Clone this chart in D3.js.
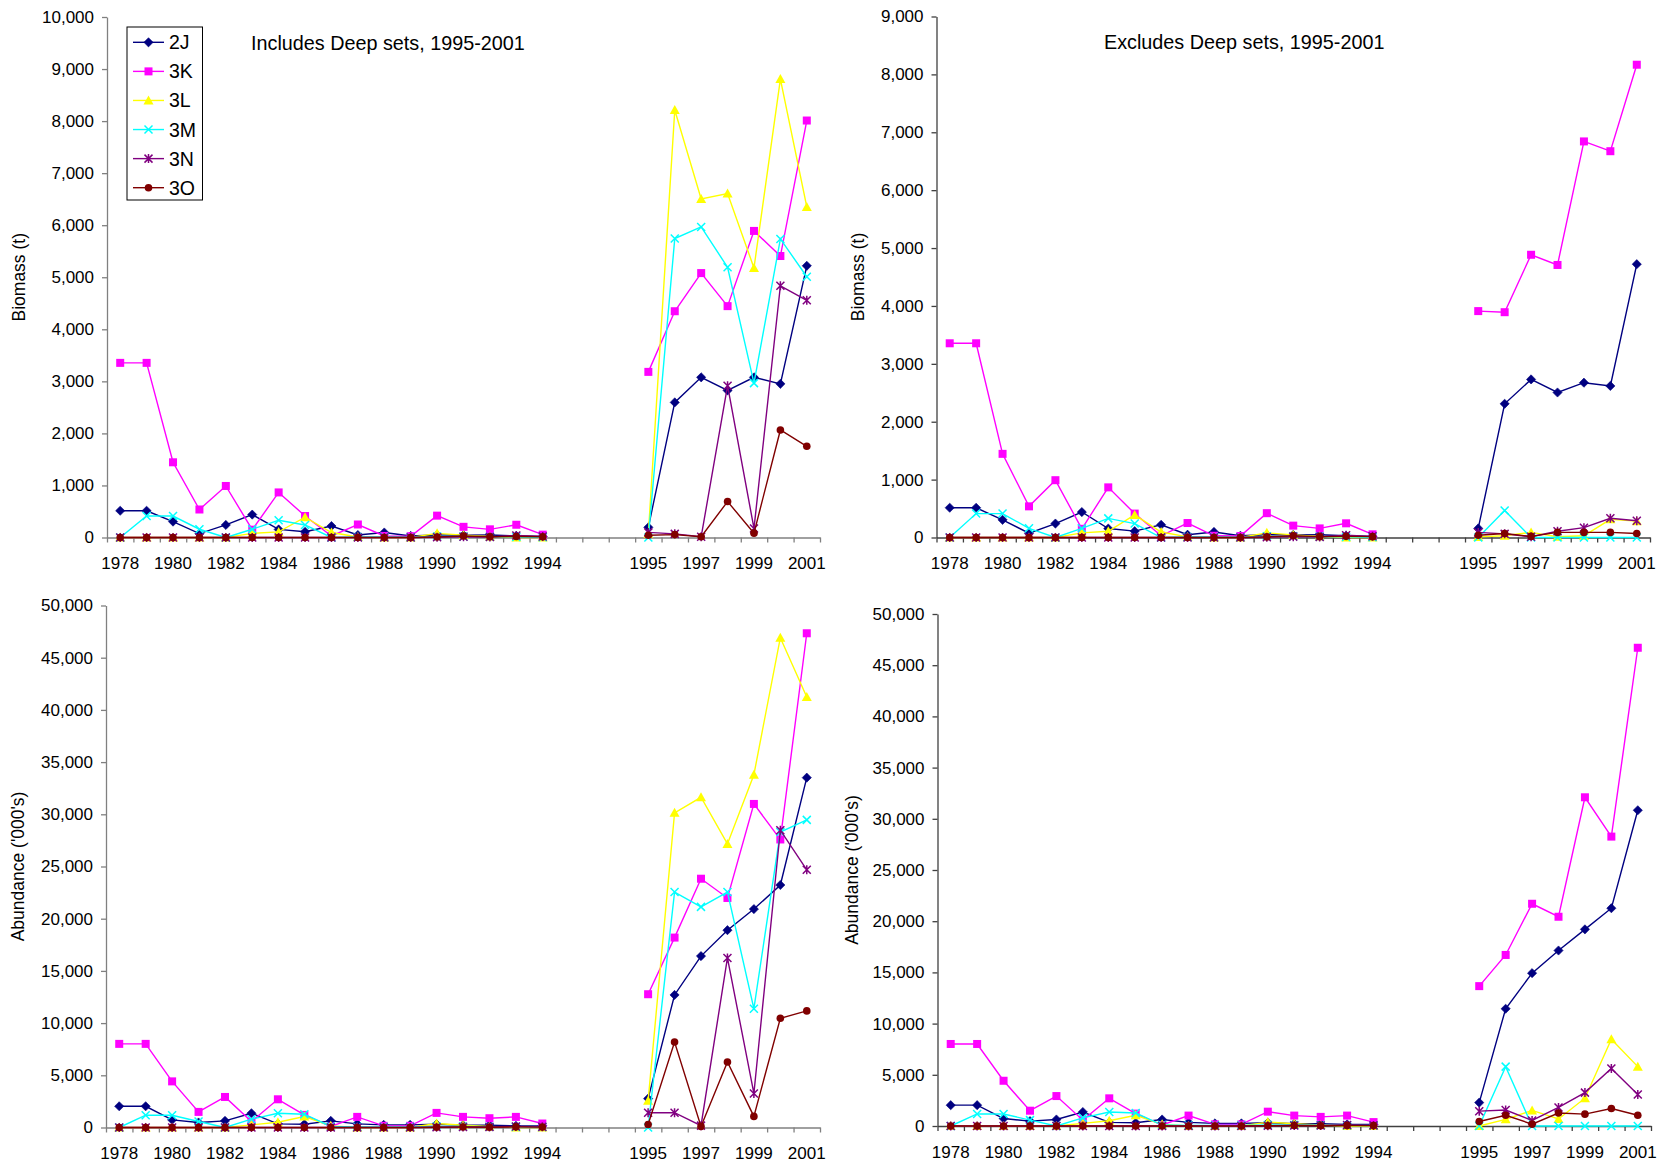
<!DOCTYPE html>
<html>
<head>
<meta charset="utf-8">
<script src="https://cdn.jsdelivr.net/npm/d3@7"></script>
<style>
  body { margin: 0; background: #fff; }
  svg { display: block; }
  text { font-family: "Liberation Sans", Arial, sans-serif; fill: #000; }
</style>
</head>
<body>
<svg id="chart" width="1669" height="1171"></svg>
<script>
// Category axis: survey years, with three empty slots separating the two survey periods
const categories = ["1978","1979","1980","1981","1982","1983","1984","1985","1986","1987","1988","1989","1990","1991","1992","1993","1994","gapA","gapB","gapC","1995","1996","1997","1998","1999","2000","2001"];
const earlyYears = ["1978","1979","1980","1981","1982","1983","1984","1985","1986","1987","1988","1989","1990","1991","1992","1993","1994"];
const lateYears = ["1995","1996","1997","1998","1999","2000","2001"];
const yearLabels = ["1978","1980","1982","1984","1986","1988","1990","1992","1994","1995","1997","1999","2001"];

const seriesNames = ["2J","3K","3L","3M","3N","3O"];

// Biomass (t), 1978-1994 (series order as seriesNames)
const biomassEarly = [
  [514, 514, 305, 75, 241, 440, 155, 110, 220, 48, 96, 30, 48, 45, 48, 30, 19],
  [3355, 3355, 1445, 538, 990, 150, 866, 413, 30, 250, 30, 25, 420, 205, 157, 245, 55],
  [0, 0, 0, 0, 0, 80, 108, 390, 95, 10, 0, 0, 80, 45, 20, 0, 0],
  [0, 413, 413, 159, 0, 159, 330, 241, 0, 10, 10, 5, 20, 20, 15, 10, 5],
  [0, 0, 0, 0, 0, 0, 0, 0, 0, 0, 0, 0, 5, 15, 10, 40, 20],
  [0, 0, 0, 0, 0, 0, 0, 0, 0, 0, 0, 0, 10, 30, 15, 20, 15]
];
// Biomass (t), 1995-2001, deep sets included
const biomassIncludesLate = [
  [195, 2596, 3077, 2826, 3077, 2952, 5220],
  [3182, 4347, 5080, 4445, 5890, 5408, 8011],
  [70, 8213, 6504, 6608, 5178, 8807, 6350],
  [0, 5743, 5966, 5192, 2966, 5736, 5010],
  [98, 70, 14, 2917, 174, 4836, 4557],
  [42, 56, 14, 691, 84, 2066, 1752]
];
// Biomass (t), 1995-2001, deep sets excluded
const biomassExcludesLate = [
  [157, 2310, 2731, 2505, 2674, 2618, 4721],
  [3911, 3892, 4884, 4708, 6842, 6673, 8167],
  [10, 30, 88, 12, 30, 314, 282],
  [0, 465, 0, 0, 0, 0, 0],
  [88, 63, 13, 107, 170, 333, 289],
  [38, 69, 19, 88, 88, 88, 69]
];
// Abundance ('000s), 1978-1994
const abundanceEarly = [
  [2034, 2034, 731, 477, 636, 1367, 350, 318, 636, 350, 254, 254, 318, 222, 222, 159, 159],
  [8010, 8010, 4418, 1494, 2924, 570, 2702, 1208, 95, 1017, 159, 159, 1399, 1017, 890, 1017, 381],
  [0, 0, 0, 0, 0, 254, 509, 1049, 159, 0, 0, 0, 381, 222, 95, 0, 0],
  [0, 1176, 1176, 572, 0, 795, 1367, 1271, 95, 60, 60, 60, 100, 100, 80, 60, 50],
  [0, 0, 0, 0, 0, 0, 0, 0, 0, 0, 0, 0, 30, 50, 50, 100, 60],
  [0, 0, 0, 0, 0, 0, 0, 0, 0, 0, 0, 0, 30, 50, 30, 60, 40]
];
// Abundance ('000s), 1995-2001, deep sets included
const abundanceIncludesLate = [
  [2766, 12695, 16418, 18901, 20922, 23227, 33511],
  [12766, 18191, 23830, 21986, 30993, 27589, 47340],
  [2553, 30142, 31631, 27163, 33794, 46915, 41241],
  [0, 22553, 21135, 22553, 11383, 28298, 29468],
  [1418, 1418, 177, 16241, 3262, 28475, 24681],
  [284, 8191, 106, 6277, 1064, 10461, 11170]
];
// Abundance ('000s), 1995-2001, deep sets excluded
const abundanceExcludesLate = [
  [2283, 11449, 14928, 17138, 19203, 21268, 30833],
  [13659, 16703, 21703, 20435, 32101, 28261, 46703],
  [0, 652, 1522, 688, 2717, 8478, 5797],
  [0, 5797, 0, 0, 0, 0, 0],
  [1449, 1558, 543, 1812, 3261, 5616, 3080],
  [435, 1051, 181, 1268, 1159, 1703, 1051]
];

const biomassIncludesTicks = [0, 1000, 2000, 3000, 4000, 5000, 6000, 7000, 8000, 9000, 10000];
const biomassExcludesTicks = [0, 1000, 2000, 3000, 4000, 5000, 6000, 7000, 8000, 9000];
const abundanceTicks = [0, 5000, 10000, 15000, 20000, 25000, 30000, 35000, 40000, 45000, 50000];

// ---- styling ----
const seriesColors = ["#000080", "#FF00FF", "#FFFF00", "#00FFFF", "#800080", "#800000"];
const seriesShapes = ["diamond", "square", "triangle", "cross", "star", "circle"];

const panels = [
  { early: biomassEarly, late: biomassIncludesLate, ticks: biomassIncludesTicks,
    title: "Includes Deep sets, 1995-2001", titleX: 251, titleY: 49.5,
    yTitle: "Biomass (t)", yTitleX: 19,
    left: 107, right: 820, top: 17, bottom: 537.5, axisColor: "#808080", legend: true },
  { early: biomassEarly, late: biomassExcludesLate, ticks: biomassExcludesTicks,
    title: "Excludes Deep sets, 1995-2001", titleX: 1104, titleY: 49,
    yTitle: "Biomass (t)", yTitleX: 858,
    left: 936.5, right: 1650, top: 16.5, bottom: 537.5, axisColor: "#404040" },
  { early: abundanceEarly, late: abundanceIncludesLate, ticks: abundanceTicks,
    yTitle: "Abundance ('000's)", yTitleX: 18,
    left: 106, right: 820, top: 605.5, bottom: 1127.5, axisColor: "#808080" },
  { early: abundanceEarly, late: abundanceExcludesLate, ticks: abundanceTicks,
    yTitle: "Abundance ('000's)", yTitleX: 851.5,
    left: 937.5, right: 1651, top: 614, bottom: 1126, axisColor: "#404040" }
];

const svg = d3.select("#chart");

function drawMarker(g, shape, color) {
  if (shape === "diamond") {
    g.append("path").attr("d", "M0,-4.6L4.6,0L0,4.6L-4.6,0Z").attr("fill", color).attr("stroke", color).attr("stroke-width", 0.6);
  } else if (shape === "square") {
    g.append("rect").attr("x", -4).attr("y", -4).attr("width", 8).attr("height", 8).attr("fill", color);
  } else if (shape === "triangle") {
    g.append("path").attr("d", "M0,-5L5,4L-5,4Z").attr("fill", color);
  } else if (shape === "cross") {
    g.append("path").attr("d", "M-4,-4L4,4M-4,4L4,-4").attr("stroke", color).attr("stroke-width", 1.5).attr("fill", "none");
  } else if (shape === "star") {
    g.append("path").attr("d", "M-4,-4L4,4M-4,4L4,-4M0,-4.5L0,4.5").attr("stroke", color).attr("stroke-width", 1.5).attr("fill", "none");
  } else {
    g.append("circle").attr("r", 3.8).attr("fill", color);
  }
}

panels.forEach(p => {
  const g = svg.append("g");
  const maxTick = p.ticks[p.ticks.length - 1];

  const x = d3.scaleBand().domain(categories).range([p.left, p.right]).paddingInner(0).paddingOuter(0);
  const slot = d3.scaleLinear().domain([0, categories.length]).range([p.left, p.right]);
  const y = d3.scaleLinear().domain([0, maxTick]).range([p.bottom, p.top]);
  const cx = c => x(c) + x.bandwidth() / 2;

  // x axis: line with tick marks between categories
  const xTicks = g.append("g").attr("transform", `translate(0,${y(0)})`)
    .call(d3.axisBottom(slot).tickValues(d3.range(categories.length + 1)).tickFormat("").tickSize(5).tickSizeOuter(0));
  xTicks.selectAll("path,line").attr("stroke", p.axisColor).attr("stroke-width", 1.3);

  // x labels every second year
  const xLabels = g.append("g").attr("transform", `translate(0,${y(0)})`)
    .call(d3.axisBottom(x).tickValues(yearLabels).tickSize(0).tickPadding(19.5));
  xLabels.select(".domain").remove();
  xLabels.selectAll("text").attr("font-size", 17).attr("font-family", "Liberation Sans, Arial, sans-serif").attr("fill", "#000");

  // y axis
  const yAxis = g.append("g").attr("transform", `translate(${p.left},0)`)
    .call(d3.axisLeft(y).tickValues(p.ticks).tickFormat(d3.format(",")).tickSize(5).tickPadding(8).tickSizeOuter(0));
  yAxis.selectAll("path,line").attr("stroke", p.axisColor).attr("stroke-width", 1.3);
  yAxis.selectAll("text").attr("font-size", 17).attr("font-family", "Liberation Sans, Arial, sans-serif").attr("fill", "#000");

  // y axis title
  g.append("text")
    .attr("transform", `translate(${p.yTitleX},${(p.top + p.bottom) / 2}) rotate(-90)`)
    .attr("text-anchor", "middle").attr("dy", "0.35em")
    .attr("font-size", 17.5).text(p.yTitle);

  if (p.title) {
    g.append("text").attr("x", p.titleX).attr("y", p.titleY).attr("font-size", 19.8).text(p.title);
  }

  // series lines and markers
  seriesNames.forEach((name, i) => {
    const pts = earlyYears.map((yr, k) => ({ cat: yr, v: p.early[i][k] }))
      .concat([{ gap: true }])
      .concat(lateYears.map((yr, k) => ({ cat: yr, v: p.late[i][k] })));
    const line = d3.line().defined(d => !d.gap).x(d => cx(d.cat)).y(d => y(d.v));
    g.append("path").datum(pts).attr("d", line)
      .attr("fill", "none").attr("stroke", seriesColors[i]).attr("stroke-width", 1.4);
    pts.filter(d => !d.gap).forEach(d => {
      const m = g.append("g").attr("transform", `translate(${cx(d.cat)},${y(d.v)})`);
      drawMarker(m, seriesShapes[i], seriesColors[i]);
    });
  });

  if (p.legend) {
    const lg = g.append("g");
    lg.append("rect").attr("x", 127).attr("y", 27).attr("width", 75.5).attr("height", 173)
      .attr("fill", "#fff").attr("stroke", "#000").attr("stroke-width", 1);
    const rowY = d3.scalePoint().domain(seriesNames).range([42.3, 187.7]);
    seriesNames.forEach((name, i) => {
      const yy = rowY(name);
      lg.append("line").attr("x1", 133).attr("x2", 164).attr("y1", yy).attr("y2", yy)
        .attr("stroke", seriesColors[i]).attr("stroke-width", 1.4);
      const m = lg.append("g").attr("transform", `translate(148.5,${yy})`);
      drawMarker(m, seriesShapes[i], seriesColors[i]);
      lg.append("text").attr("x", 169).attr("y", yy).attr("dy", "0.36em").attr("font-size", 19.5).text(name);
    });
  }
});
</script>
</body>
</html>
